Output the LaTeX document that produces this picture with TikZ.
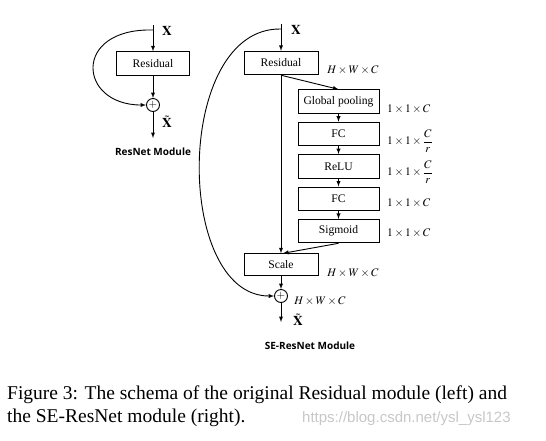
\documentclass[tikz,border=0pt]{standalone}
\usepackage{amsmath}
\usepackage{mathptmx}
\usepackage{fontspec}
\setmainfont{Liberation Serif}
\newfontfamily\modfont{Open Sans}
\newfontfamily\markfont{Liberation Sans}
\usetikzlibrary{arrows,shapes,positioning,calc}

\begin{document}
\begin{tikzpicture}[x=1pt,y=-1pt]
        \tikzstyle{main}=[rectangle, draw=black, line width=0.9pt, minimum height=23.5pt, inner sep=0pt, font=\fontsize{11.6}{13}\selectfont]
        \tikzstyle{wide}=[main, minimum width=81pt]
        \tikzstyle{narrow}=[main, minimum width=74pt]
        \tikzstyle{sum}=[circle, draw=black, line width=0.9pt, minimum size=13pt, inner sep=0pt, font=\fontsize{11}{12}\selectfont]
        \tikzstyle{dim}=[anchor=west, inner sep=0pt, font=\fontsize{11.5}{13}\selectfont]
        \tikzstyle{var}=[inner sep=0pt, font=\fontsize{13.5}{15}\selectfont]
        \tikzstyle{title}=[font=\modfont\bfseries\fontsize{10}{12}\selectfont]
        \tikzstyle{capt}=[anchor=base west, inner sep=0pt, font=\fontsize{19.5}{22}\selectfont]
        \tikzstyle{connect}=[-latex, line width=0.9pt]
        \useasboundingbox (0,0) rectangle (546,440);
        % ResNet module
        \coordinate (xa) at (153,25);
        \coordinate (forka) at (153,30);
        \node[main, minimum width=73pt] (resa) at (153,63.5) {Residual};
        \node[sum] (suma) at (153,105) {$+$};
        \coordinate (outa) at (153,138);
        \node[var] (xla) at (167,31) {$\mathbf{X}$};
        \node[var] (xta) at (167,122) {$\tilde{\mathbf{X}}$};
        \node[title] (tita) at (153,152) {ResNet Module};
        \draw[connect] (xa) -- (resa);
        \draw[connect] (resa) -- (suma);
        \draw[connect] (suma) -- (outa);
        \draw[connect] (forka) .. controls (72,28) and (78,105) .. (suma);
        % SE-ResNet module
        \coordinate (xb) at (281,24);
        \coordinate (forkb) at (281,29);
        \node[narrow] (resb) at (281,63) {Residual};
        \node[wide] (gp) at (338.5,101.5) {Global pooling};
        \node[wide, below=8pt of gp] (fca) {FC};
        \node[wide, below=8pt of fca] (relu) {ReLU};
        \node[wide, below=8pt of relu] (fcb) {FC};
        \node[wide, below=8pt of fcb] (sig) {Sigmoid};
        \node[narrow, minimum height=21.5pt] (scale) at (281,264.5) {Scale};
        \node[sum] (sumb) at (281,296) {$+$};
        \coordinate (outb) at (281,322);
        \node[var] (xlb) at (296,30) {$\mathbf{X}$};
        \node[var] (xtb) at (298,320) {$\tilde{\mathbf{X}}$};
        \node[dim, anchor=center] (da) at (353,70) {$H\times W\times C$};
        \node[dim] (db) at (387,109) {$1\times1\times C$};
        \node[dim] (dc) at (387,141) {$1\times1\times\dfrac{C}{r}$};
        \node[dim] (dd) at (387,172) {$1\times1\times\dfrac{C}{r}$};
        \node[dim] (de) at (387,203) {$1\times1\times C$};
        \node[dim] (df) at (387,233) {$1\times1\times C$};
        \node[dim, anchor=center] (dg) at (353,273) {$H\times W\times C$};
        \node[dim, anchor=center] (dh) at (320,301) {$H\times W\times C$};
        \node[title] (titb) at (310,346) {SE-ResNet Module};
        \draw[connect] (xb) -- (resb);
        \draw[connect] (resb) -- (scale);
        \draw[connect] (resb.south) -- (gp.north);
        \draw[connect] (gp) -- (fca);
        \draw[connect] (fca) -- (relu);
        \draw[connect] (relu) -- (fcb);
        \draw[connect] (fcb) -- (sig);
        \draw[connect] (sig.south) -- ($(scale.north)+(2,0)$);
        \draw[connect] (scale) -- (sumb);
        \draw[connect] (sumb) -- (outb);
        \draw[connect] (forkb) .. controls (174,27) and (174,296) .. (sumb);
        % caption
        \node[capt] (capa) at (7,399) {Figure 3: The schema of the original Residual module (left) and};
        \node[capt] (capb) at (7,422) {the SE-ResNet module (right).};
        \node[anchor=base west, inner sep=0pt, text=black!22, font=\markfont\fontsize{15}{17}\selectfont] (mark) at (302,422) {https://blog.csdn.net/ysl\_ysl123};
\end{tikzpicture}
\end{document}
